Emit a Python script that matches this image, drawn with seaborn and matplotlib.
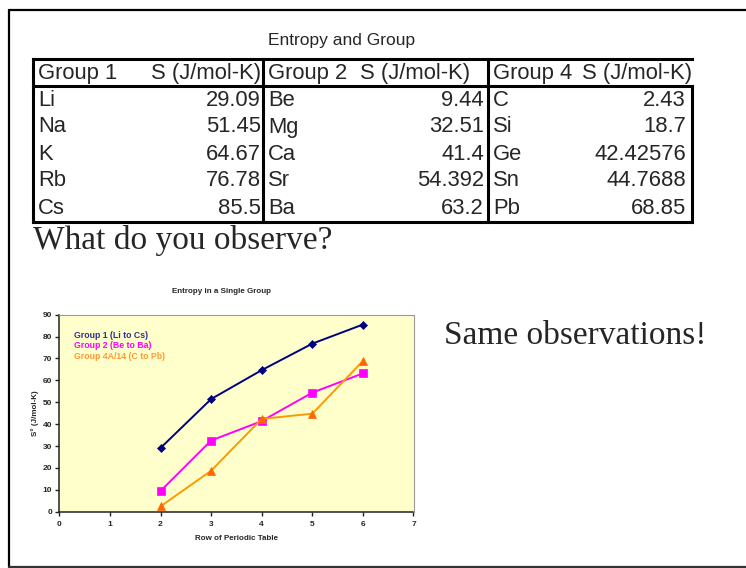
import matplotlib
matplotlib.use("Agg")
import matplotlib.pyplot as plt
import seaborn as sns
import pandas as pd

# ---------------- data ----------------
table_title = "Entropy and Group"
header_groups = ["Group 1", "Group 2", "Group 4"]
header_unit = "S (J/mol-K)"
group1_names = ["Li", "Na", "K", "Rb", "Cs"]
group1_S = [29.09, 51.45, 64.67, 76.78, 85.5]
group2_names = ["Be", "Mg", "Ca", "Sr", "Ba"]
group2_S = [9.44, 32.51, 41.4, 54.392, 63.2]
group4_names = ["C", "Si", "Ge", "Sn", "Pb"]
group4_S = [2.43, 18.7, 42.42576, 44.7688, 68.85]

periodic_rows = [2, 3, 4, 5, 6]
series_labels = ["Group 1 (Li to Cs)", "Group 2 (Be to Ba)", "Group 4A/14 (C to Pb)"]
x_ticks = [0, 1, 2, 3, 4, 5, 6, 7]
y_ticks = [0, 10, 20, 30, 40, 50, 60, 70, 80, 90]

chart_title = "Entropy in a Single Group"
x_label = "Row of Periodic Table"
y_label = "S° (J/mol-K)"
question = "What do you observe?"
remark = "Same observations!"

# ---------------- style ----------------
sns.set_style("white")
plt.rcParams["font.family"] = ["Liberation Sans", "DejaVu Sans"]

W, H = 746, 568
fig = plt.figure(figsize=(W / 100, H / 100), dpi=100)

# overlay in pixel coordinates for slide elements
ov = fig.add_axes([0, 0, 1, 1])
ov.set_xlim(0, W)
ov.set_ylim(H, 0)
ov.axis("off")

# slide border
ov.plot([9, 9], [10, 566.5], color="black", lw=1.6)
ov.plot([9, W], [10, 10], color="black", lw=1.6)
ov.plot([9, W], [566.5, 566.5], color="#333333", lw=1.6)

# table
ov.text(342, 41, table_title, ha="center", va="center", fontsize=12.5)
tl, c1, c2, tr = 33, 263, 488, 692
top, hb, bot = 58.5, 86, 222
lwT = 2.2
ov.plot([tl, tr], [top, top], color="black", lw=lwT, solid_capstyle="projecting")
ov.plot([tl, tr], [hb, hb], color="black", lw=lwT, solid_capstyle="projecting")
ov.plot([tl, tr], [bot, bot], color="black", lw=lwT, solid_capstyle="projecting")
ov.plot([tl, tl], [top, bot], color="black", lw=lwT, solid_capstyle="projecting")
ov.plot([c1, c1], [top, bot], color="black", lw=lwT, solid_capstyle="projecting")
ov.plot([c2, c2], [top, bot], color="black", lw=lwT, solid_capstyle="projecting")
ov.plot([tr, tr], [hb, bot], color="black", lw=lwT, solid_capstyle="projecting")

fs_tab = 15.8
name_x = [38, 268, 493]
unit_right = [261, 470, 692]
val_right = [261, 484, 686]
hy = 73
for gx, ux, g in zip(name_x, unit_right, header_groups):
    ov.text(gx, hy, g, ha="left", va="center", fontsize=fs_tab)
    ov.text(ux, hy, header_unit, ha="right", va="center", fontsize=fs_tab)

row_y = [100, 127, 154, 181, 208]
cols = [(group1_names, group1_S), (group2_names, group2_S), (group4_names, group4_S)]
for k, (names, vals) in enumerate(cols):
    for y, n, v in zip(row_y, names, vals):
        ov.text(name_x[k], y, n, ha="left", va="center", fontsize=fs_tab)
        ov.text(val_right[k], y, str(v), ha="right", va="center", fontsize=fs_tab)

serif = ["Liberation Serif", "DejaVu Serif"]
ov.text(33, 241, question, ha="left", va="center", fontsize=24, family=serif)
ov.text(444, 336, remark, ha="left", va="center", fontsize=24, family=serif)

# ---------------- chart ----------------
axL, axR, axT, axB = 59.3, 413.5, 314.7, 511.7
ax = fig.add_axes([axL / W, (H - axB) / H, (axR - axL) / W, (axB - axT) / H])
ax.set_facecolor("#FFFFCC")

df = pd.DataFrame({
    "row": periodic_rows * 3,
    "S": group1_S + group2_S + group4_S,
    "series": [series_labels[0]] * 5 + [series_labels[1]] * 5 + [series_labels[2]] * 5,
})
line_colors = {series_labels[0]: "#000080", series_labels[1]: "#FF00FF", series_labels[2]: "#FF9900"}
marker_colors = ["#000080", "#FF00FF", "#FF6600"]
markers = {series_labels[0]: "D", series_labels[1]: "s", series_labels[2]: "^"}
sns.lineplot(data=df, x="row", y="S", hue="series", style="series",
             palette=line_colors, markers=markers, dashes=False,
             linewidth=1.4, legend=False, ax=ax)
msizes = [4.3, 5.5, 5.5]
for ln, mc, ms in zip(ax.lines, marker_colors, msizes):
    ln.set_markerfacecolor(mc)
    ln.set_markeredgecolor(mc)
    ln.set_markersize(ms)
    ln.set_markeredgewidth(0.5)

ax.set_xlim(0, 7)
ax.set_ylim(0, 90)
ax.set_xticks(x_ticks)
ax.set_yticks(y_ticks)
ax.tick_params(axis="both", which="major", direction="out", length=3, width=1,
               labelsize=6, color="#222222", left=True, bottom=True)
ax.tick_params(axis="y", pad=2)
ax.tick_params(axis="x", pad=4)
for lab in ax.get_xticklabels() + ax.get_yticklabels():
    lab.set_fontweight("bold")

for s in ["left", "bottom"]:
    ax.spines[s].set_color("#222222")
    ax.spines[s].set_linewidth(1.1)
for s in ["top", "right"]:
    ax.spines[s].set_color("#999999")
    ax.spines[s].set_linewidth(0.8)

ax.set_xlabel(x_label, fontsize=5.8, fontweight="bold")
ax.set_ylabel(y_label, fontsize=5.8, fontweight="bold")
ax.xaxis.set_label_coords(0.5, -(538 - axB) / (axB - axT))
ax.yaxis.set_label_coords((35 - axL) / (axR - axL), 0.5)
ax.xaxis.label.set_va("center")
ax.yaxis.label.set_va("center")

ax.text((222 - axL) / (axR - axL), (axB - 291.5) / (axB - axT), chart_title,
        transform=ax.transAxes, ha="center", va="center", fontsize=5.8, fontweight="bold")

legend_colors = ["#2E2E8F", "#FF00FF", "#FF9933"]
legend_y = [335, 345.5, 356.2]
for lab, col, y in zip(series_labels, legend_colors, legend_y):
    ax.text((74.3 - axL) / (axR - axL), (axB - y) / (axB - axT), lab,
            transform=ax.transAxes, ha="left", va="center", fontsize=6.3,
            fontweight="bold", color=col)

fig.savefig("out.png", dpi=100)
